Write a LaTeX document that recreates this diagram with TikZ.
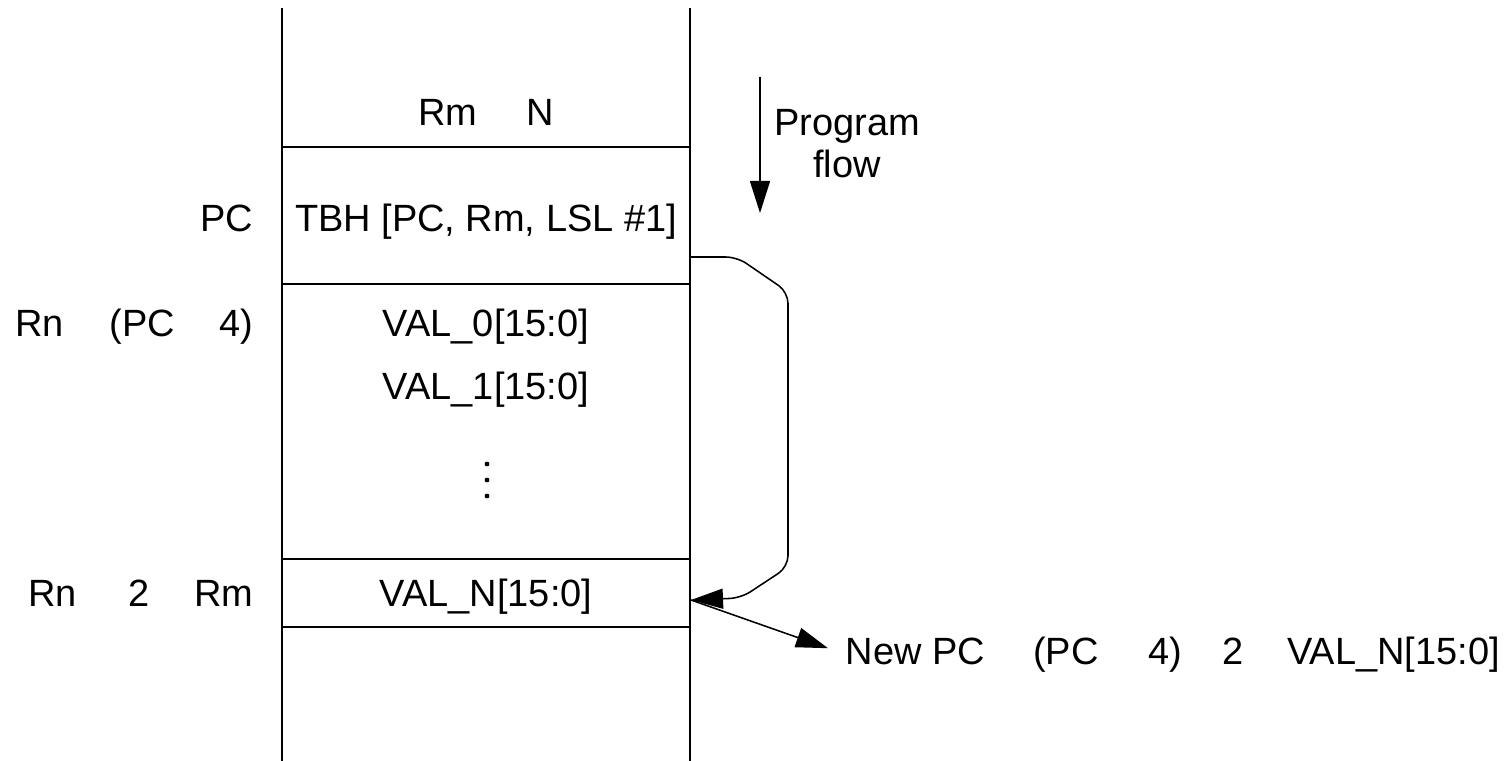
\documentclass[tikz,border=0pt]{standalone}
\usepackage{fontspec}
\setmainfont{Liberation Sans}
\usetikzlibrary{arrows.meta, positioning}

\begin{document}
\begin{tikzpicture}[x=0.025cm, y=-0.025cm, line width=1.3pt,
  txt/.style={inner sep=0pt, font=\fontsize{27}{32}\selectfont},
  flowarrow/.style={-{Triangle[length=0.8cm,width=0.5cm]}, line width=1.1pt}]
\useasboundingbox (0,0) rectangle (1509,761);

% memory column
\draw (282,8) -- (282,761);
\draw (690,8) -- (690,761);
\foreach \y in {147,284,559,627} \draw (282,\y) -- (690,\y);

% entries
\node[txt, anchor=base] (rmn) at (486,126) {Rm\hspace{1.22cm}N};
\node[txt, anchor=base] (tbh) at (486,231) {TBH [PC, Rm, LSL \#1]};
\node[txt, anchor=base] (val0) at (486,336) {VAL\_0[15:0]};
\node[txt, anchor=base] (val1) at (486,399) {VAL\_1[15:0]};
\node[txt, anchor=base] (valn) at (486,606) {VAL\_N[15:0]};
\foreach \y in {464,480,496} \fill (487,\y) circle (1.7pt);

% addresses
\node[txt, anchor=base east] (pc) at (254,231) {PC};
\node[txt, anchor=base east] (rnbase) at (254,336) {Rn\hspace{1.15cm}(PC\hspace{1.1cm}4)};
\node[txt, anchor=base east] (rnidx) at (254,606) {Rn\hspace{1.3cm}2\hspace{1.1cm}Rm};

% program flow
\coordinate (flowtop) at (760,77);
\coordinate (flowtip) at (760,213);
\draw[flowarrow] (flowtop) -- (flowtip);
\node[txt, anchor=base] (prog) at (847,136) {Program};
\node[txt, anchor=base] (flow) at (847,178) {flow};

% branch
\coordinate (jumpfrom) at (690,257);
\coordinate (jumpto) at (691,600);
\draw[flowarrow, rounded corners=8pt] (jumpfrom) -- (737,257) -- (788,292) -- (788,567) -- (741,598) -- (jumpto);
\node[txt, anchor=base west] (newpc) at (845,664)
  {New PC\hspace{1.2cm}(PC\hspace{1.25cm}4)\hspace{1.0cm}2\hspace{1.1cm}VAL\_N[15:0]};
\draw[flowarrow, shorten >=0.45cm] (jumpto) -- (newpc.west);
\end{tikzpicture}
\end{document}
